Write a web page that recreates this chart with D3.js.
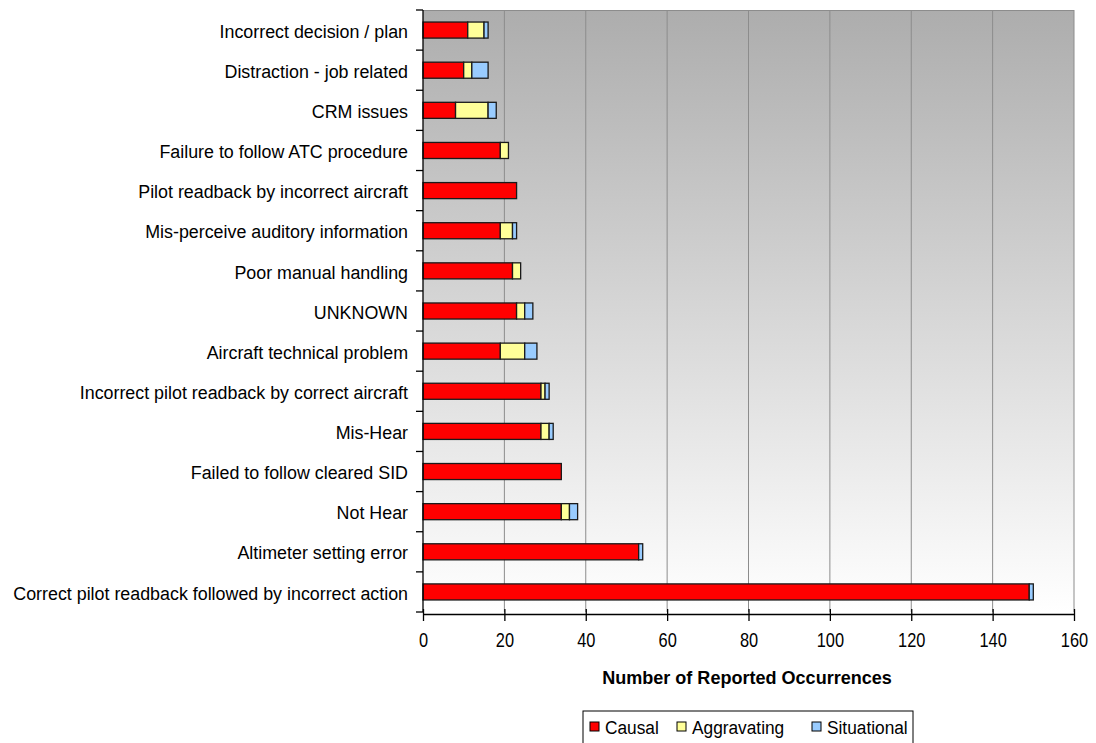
<!DOCTYPE html>
<html>
<head>
<meta charset="utf-8">
<script src="https://cdn.jsdelivr.net/npm/d3@7"></script>
<style>
body { margin: 0; background: #fff; }
text { font-family: "Liberation Sans", Arial, sans-serif; fill: #000; }
</style>
</head>
<body>
<svg id="chart" width="1096" height="743"></svg>
<script>
// categories top to bottom
var categories = [
	"Incorrect decision / plan",
	"Distraction - job related",
	"CRM issues",
	"Failure to follow ATC procedure",
	"Pilot readback by incorrect aircraft",
	"Mis-perceive auditory information",
	"Poor manual handling",
	"UNKNOWN",
	"Aircraft technical problem",
	"Incorrect pilot readback by correct aircraft",
	"Mis-Hear",
	"Failed to follow cleared SID",
	"Not Hear",
	"Altimeter setting error",
	"Correct pilot readback followed by incorrect action"
];
var causal      = [11, 10, 8, 19, 23, 19, 22, 23, 19, 29, 29, 34, 34, 53, 149];
var aggravating = [4, 2, 8, 2, 0, 3, 2, 2, 6, 1, 2, 0, 2, 0, 0];
var situational = [1, 4, 2, 0, 0, 1, 0, 2, 3, 1, 1, 0, 2, 1, 1];
var seriesNames = ["Causal", "Aggravating", "Situational"];
var seriesColors = ["#ff0000", "#ffff99", "#99ccff"];
var xTicks = [0, 20, 40, 60, 80, 100, 120, 140, 160];

var margin = {top: 10, left: 423, right: 22, bottom: 131};
var width = 1096 - margin.left - margin.right;
var height = 743 - margin.top - margin.bottom;

var rows = categories.map(function(c, i) {
	return {cat: c, Causal: causal[i], Aggravating: aggravating[i], Situational: situational[i]};
});

var svg = d3.select("#chart");

// background gradient for the plot area
var grad = svg.append("defs").append("linearGradient")
	.attr("id", "bg").attr("x1", 0).attr("y1", 0).attr("x2", 0).attr("y2", 1);
grad.append("stop").attr("offset", "0%").attr("stop-color", "#adadad");
grad.append("stop").attr("offset", "100%").attr("stop-color", "#ffffff");

var g = svg.append("g").attr("transform", "translate(" + margin.left + "," + margin.top + ")");

var x = d3.scaleLinear().domain([0, 160]).range([0, width]);
var y = d3.scaleBand().domain(categories).range([0, height]).paddingInner(0.6).paddingOuter(0.3);
var yEdge = d3.scaleBand().domain(categories).range([0, height]);

g.append("rect").attr("width", width).attr("height", height).attr("fill", "url(#bg)");

// gridlines
g.selectAll(".grid").data(xTicks.slice(1)).enter().append("line")
	.attr("x1", d => x(d)).attr("x2", d => x(d))
	.attr("y1", 0).attr("y2", height)
	.attr("stroke", "#8c8c8c").attr("stroke-width", 1);

// top border
g.append("line").attr("x1", 0).attr("x2", width).attr("y1", 0.5).attr("y2", 0.5)
	.attr("stroke", "#8c8c8c");

// stacked bars
var stack = d3.stack().keys(seriesNames);
g.append("g").selectAll("g")
	.data(stack(rows))
	.enter().append("g")
		.attr("fill", (d, i) => seriesColors[i])
		.selectAll("rect")
		.data(d => d.filter(s => s[1] > s[0]))
		.enter().append("rect")
			.attr("x", d => x(d[0]))
			.attr("y", d => y(d.data.cat))
			.attr("width", d => x(d[1]) - x(d[0]))
			.attr("height", y.bandwidth())
			.attr("stroke", "#1a1a1a")
			.attr("stroke-width", 1.3);

// y axis with ticks at category boundaries
g.append("line").attr("x1", 0).attr("x2", 0).attr("y1", 0).attr("y2", height).attr("stroke", "#000").attr("stroke-width", 1.3);
var edges = categories.map(c => yEdge(c)).concat([height]);
g.selectAll(".ytick").data(edges).enter().append("line")
	.attr("x1", -7).attr("x2", 0).attr("y1", d => d).attr("y2", d => d)
	.attr("stroke", "#000").attr("stroke-width", 1.3);
// narrow-looking labels: scale horizontally
g.selectAll(".ylabel").data(categories).enter().append("text")
	.attr("transform", d => "translate(-15," + (y(d) + y.bandwidth() / 2 + 1) + ") scale(0.94,1)")
	.attr("dy", "0.35em")
	.attr("text-anchor", "end")
	.style("font-size", "19px")
	.text(d => d);

// x axis
var xAxis = g.append("g").attr("transform", "translate(0," + (height + 2) + ")")
	.call(d3.axisBottom(x).tickValues(xTicks).tickSize(7).tickSizeOuter(0).tickPadding(12));
xAxis.select(".domain").attr("stroke-width", 1.3);
xAxis.selectAll(".tick line").attr("y1", -5).attr("stroke-width", 1.3);
xAxis.selectAll("text")
	.style("font-size", "20px")
	.style("font-family", "'Liberation Sans', Arial, sans-serif")
	.attr("transform", "scale(0.82,1)");

svg.append("text")
	.attr("transform", "translate(747,684) scale(0.95,1)")
	.attr("text-anchor", "middle")
	.style("font-size", "19px")
	.style("font-weight", "bold")
	.text("Number of Reported Occurrences");

// legend
var legend = svg.append("g").attr("transform", "translate(583,711)");
legend.append("rect").attr("width", 330).attr("height", 34).attr("fill", "#fff").attr("stroke", "#000");
var legX = [7, 94, 229];
seriesNames.forEach(function(s, i) {
	legend.append("rect").attr("x", legX[i]).attr("y", 11).attr("width", 9).attr("height", 9)
		.attr("fill", seriesColors[i]).attr("stroke", "#000");
	legend.append("text")
		.attr("transform", "translate(" + (legX[i] + 15) + ",16) scale(0.91,1)")
		.attr("dy", "0.35em")
		.style("font-size", "19px").text(s);
});
</script>
</body>
</html>
